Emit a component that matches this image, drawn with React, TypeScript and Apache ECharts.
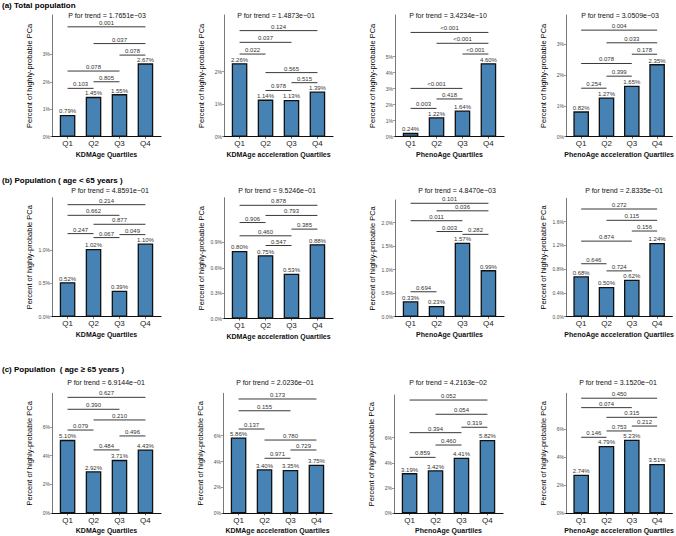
import React, { useEffect, useRef } from 'react';
import * as echarts from 'echarts';

// ---------------- data ----------------
const quartiles = [1, 2, 3, 4];
const xTitles = [
  'KDMAge Quartiles',
  'KDMAge acceleration Quartiles',
  'PhenoAge Quartiles',
  'PhenoAge acceleration Quartiles',
];
const rowTitles = [
  '(a) Total population',
  '(b) Population ( age < 65 years )',
  '(c) Population  ( age \u2265 65 years )',
];
const pTrend = [
  '1.7651e\u221203', '1.4873e\u221201', '3.4234e\u221210', '3.0509e\u221203',
  '4.8591e\u221201', '9.5246e\u221201', '4.8470e\u221203', '2.8335e\u221201',
  '6.9144e\u221201', '2.0236e\u221201', '4.2163e\u221202', '3.1520e\u221201',
];
const barValues = [
  [0.79, 1.45, 1.55, 2.67],
  [2.26, 1.14, 1.13, 1.39],
  [0.24, 1.22, 1.64, 4.6],
  [0.82, 1.27, 1.65, 2.35],
  [0.52, 1.02, 0.39, 1.1],
  [0.8, 0.75, 0.53, 0.88],
  [0.33, 0.23, 1.57, 0.99],
  [0.68, 0.5, 0.62, 1.24],
  [5.1, 2.92, 3.71, 4.43],
  [5.86, 3.4, 3.35, 3.75],
  [3.19, 3.42, 4.41, 5.82],
  [2.74, 4.79, 5.23, 3.51],
];
const yTicks = [
  [0, 1, 2, 3],
  [0, 1, 2],
  [0, 1, 2, 3, 4, 5],
  [0, 1, 2, 3],
  [0, 0.5, 1.0],
  [0, 0.3, 0.6, 0.9],
  [0, 0.5, 1.0, 1.5, 2.0],
  [0, 0.4, 0.8, 1.2, 1.6],
  [0, 2, 4, 6],
  [0, 2, 4, 6],
  [0, 2, 4, 6],
  [0, 2, 4, 6],
];
const yTickDecimals = [0, 0, 0, 0, 1, 1, 1, 1, 0, 0, 0, 0];
const yMax = [4.43, 3.74, 7.61, 3.94, 1.79, 1.43, 2.48, 1.99, 8.33, 9.27, 9.39, 8.54];
// [from quartile, to quartile, height (%), p-value label]
const brackets: [number, number, number, string][][] = [
  [[1, 4, 4.0, '0.001'], [2, 4, 3.39, '0.037'], [3, 4, 2.97, '0.078'], [1, 3, 2.39, '0.078'], [2, 3, 2.0, '0.805'], [1, 2, 1.76, '0.103']],
  [[1, 4, 3.26, '0.124'], [1, 3, 2.9, '0.037'], [1, 2, 2.54, '0.022'], [2, 4, 1.97, '0.565'], [3, 4, 1.66, '0.515'], [2, 3, 1.42, '0.978']],
  [[1, 4, 6.52, '<0.001'], [2, 4, 5.84, '<0.001'], [3, 4, 5.17, '<0.001'], [1, 3, 3.02, '<0.001'], [2, 3, 2.36, '0.418'], [1, 2, 1.77, '0.003']],
  [[1, 4, 3.45, '0.004'], [2, 4, 3.04, '0.033'], [3, 4, 2.67, '0.178'], [1, 3, 2.37, '0.078'], [2, 3, 1.96, '0.399'], [1, 2, 1.57, '0.254']],
  [[1, 4, 1.685, '0.214'], [1, 3, 1.525, '0.662'], [2, 4, 1.39, '0.877'], [1, 2, 1.25, '0.247'], [3, 4, 1.235, '0.049'], [2, 3, 1.19, '0.067']],
  [[1, 4, 1.34, '0.878'], [2, 4, 1.22, '0.793'], [1, 2, 1.136, '0.906'], [3, 4, 1.058, '0.385'], [1, 3, 0.979, '0.460'], [2, 3, 0.864, '0.547']],
  [[1, 4, 2.41, '0.101'], [2, 4, 2.25, '0.036'], [1, 3, 2.04, '0.011'], [2, 3, 1.81, '0.003'], [3, 4, 1.75, '0.282'], [1, 2, 0.53, '0.694']],
  [[1, 4, 1.81, '0.272'], [2, 4, 1.62, '0.115'], [3, 4, 1.44, '0.156'], [1, 3, 1.27, '0.874'], [1, 2, 0.89, '0.646'], [2, 3, 0.77, '0.724']],
  [[1, 4, 8.05, '0.627'], [1, 3, 7.22, '0.390'], [2, 4, 6.48, '0.210'], [1, 2, 5.78, '0.079'], [3, 4, 5.37, '0.496'], [2, 3, 4.4, '0.484']],
  [[1, 4, 8.83, '0.173'], [1, 3, 7.92, '0.155'], [1, 2, 6.51, '0.137'], [2, 4, 5.66, '0.780'], [3, 4, 4.89, '0.729'], [2, 3, 4.25, '0.971']],
  [[1, 4, 8.99, '0.052'], [2, 4, 7.86, '0.054'], [3, 4, 6.83, '0.319'], [1, 3, 6.4, '0.394'], [2, 3, 5.42, '0.460'], [1, 2, 4.44, '0.859']],
  [[1, 4, 8.19, '0.450'], [1, 3, 7.52, '0.074'], [2, 4, 6.83, '0.315'], [3, 4, 6.21, '0.212'], [2, 3, 5.86, '0.753'], [1, 2, 5.41, '0.146']],
];

// ---------------- layout ----------------
const FONT = '"Liberation Sans", Arial, Helvetica, sans-serif';
const PANEL_W = 109;
const gridLeft = [52, 224, 395, 566, 52, 224, 395, 566, 52, 223, 394, 566];
const gridTop = [15, 15, 15, 15, 197.7, 197.7, 200, 198.3, 393.3, 393.3, 395, 393.3];
const gridBottom = [136.7, 136.7, 136.7, 136.7, 316.7, 318.5, 316.7, 316.7, 513.3, 513.3, 513.3, 513.3];
const pTextX = [107, 276, 448, 620, 110, 277, 457, 624, 106, 275, 448, 618];
const pTextY = [15, 15, 15, 15, 190, 190, 190.7, 190.7, 382.7, 382.7, 382.7, 382.7];
const rowTitleY = [5.5, 180, 369];

function buildOption() {
  const idx = barValues.map((_, i) => i);
  const grid = idx.map((i) => ({
    left: gridLeft[i],
    top: gridTop[i],
    width: PANEL_W,
    height: gridBottom[i] - gridTop[i],
  }));
  const xAxis = idx.map((i) => ({
    type: 'value',
    gridIndex: i,
    min: 0.4,
    max: 4.6,
    splitLine: { show: false },
    axisLine: { show: true, onZero: false, lineStyle: { color: '#111', width: 1.2 } },
    axisTick: { show: true, length: 2, customValues: quartiles, lineStyle: { color: '#333', width: 0.8 } },
    axisLabel: {
      customValues: quartiles,
      formatter: (v: number) => 'Q' + v,
      fontSize: 8,
      color: '#222',
      margin: 3,
      fontFamily: FONT,
    },
    name: xTitles[i % 4],
    nameLocation: 'middle',
    nameGap: 14,
    nameTextStyle: { fontSize: 7, fontWeight: 'bold', color: '#111', fontFamily: FONT },
  }));
  const yAxis = idx.map((i) => ({
    type: 'value',
    gridIndex: i,
    min: 0,
    max: yMax[i],
    splitLine: { show: false },
    axisLine: { show: true, onZero: false, lineStyle: { color: '#555', width: 0.8 } },
    axisTick: { show: true, length: 2, customValues: yTicks[i], lineStyle: { color: '#555', width: 0.6 } },
    axisLabel: {
      customValues: yTicks[i],
      formatter: (v: number) => v.toFixed(yTickDecimals[i]) + '%',
      fontSize: 5,
      color: '#4d4d4d',
      margin: 2,
      fontFamily: FONT,
    },
    name: 'Percent of highly-probable PCa',
    nameLocation: 'middle',
    nameGap: 19,
    nameTextStyle: { fontSize: 7.5, color: '#000', fontFamily: FONT },
  }));
  const series: any[] = [];
  idx.forEach((i) => {
    series.push({
      type: 'bar',
      xAxisIndex: i,
      yAxisIndex: i,
      barWidth: 15.6,
      data: barValues[i].map((v, k) => [quartiles[k], v]),
      itemStyle: { color: '#4682B4', borderColor: '#111', borderWidth: 1.3 },
      label: {
        show: true,
        position: 'top',
        distance: 0.5,
        fontSize: 6,
        color: '#333',
        fontFamily: FONT,
        formatter: (p: any) => p.value[1].toFixed(2) + '%',
      },
    });
    const br = brackets[i];
    series.push({
      type: 'custom',
      xAxisIndex: i,
      yAxisIndex: i,
      silent: true,
      clip: false,
      data: br.map((b) => [b[0], b[1], b[2]]),
      encode: { x: [0, 1], y: 2 },
      renderItem: (params: any, api: any) => {
        const b = br[params.dataIndex];
        const s = api.coord([b[0], b[2]]);
        const e = api.coord([b[1], b[2]]);
        return {
          type: 'group',
          children: [
            {
              type: 'line',
              shape: { x1: s[0], y1: s[1], x2: e[0], y2: e[1] },
              style: { stroke: '#222', lineWidth: 0.9 },
            },
            {
              type: 'text',
              x: (s[0] + e[0]) / 2,
              y: s[1] - 1,
              style: {
                text: b[3],
                fontSize: 6,
                fontFamily: FONT,
                fill: '#333',
                align: 'center',
                verticalAlign: 'bottom',
              },
            },
          ],
        };
      },
    });
  });
  const graphic: any[] = [];
  rowTitles.forEach((t, r) => {
    graphic.push({
      type: 'text',
      x: 2,
      y: rowTitleY[r],
      style: { text: t, fontSize: 8, fontWeight: 'bold', fontFamily: FONT, fill: '#000', align: 'left', verticalAlign: 'middle' },
    });
  });
  idx.forEach((i) => {
    graphic.push({
      type: 'text',
      x: pTextX[i],
      y: pTextY[i],
      style: {
        text: 'P for trend = ' + pTrend[i],
        fontSize: 7,
        fontFamily: FONT,
        fill: '#111',
        align: 'center',
        verticalAlign: 'middle',
      },
    });
  });
  return {
    animation: false,
    backgroundColor: '#fff',
    grid,
    xAxis,
    yAxis,
    series,
    graphic,
  };
}

export default function App() {
  const ref = useRef<HTMLDivElement>(null);
  useEffect(() => {
    if (!ref.current) return;
    const chart = echarts.init(ref.current, undefined, { renderer: 'svg' });
    chart.setOption(buildOption() as any);
    return () => chart.dispose();
  }, []);
  return (
    <div
      ref={ref}
      style={{ position: 'absolute', left: 0, top: 0, width: 676, height: 536, background: '#fff' }}
    />
  );
}
